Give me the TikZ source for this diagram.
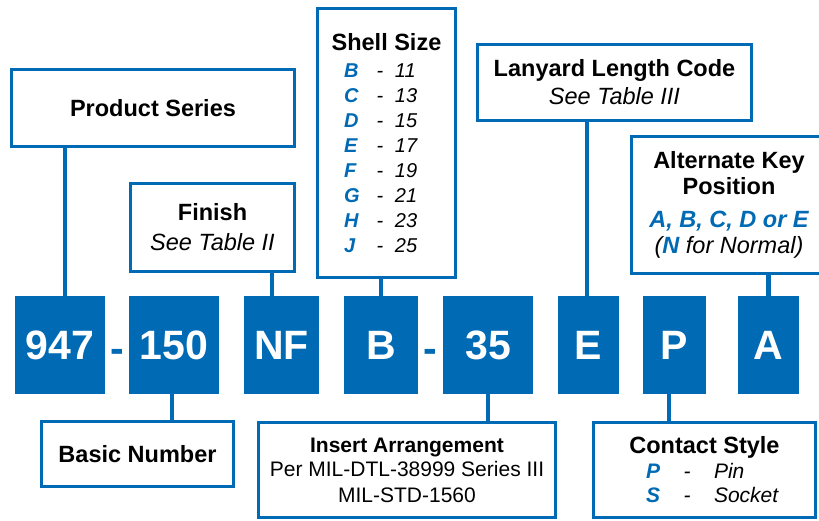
\documentclass[tikz,border=0pt]{standalone}
\usepackage{fontspec}
\setmainfont{Liberation Sans}
\usetikzlibrary{calc}
\definecolor{pnblue}{RGB}{0,106,180}
\newcommand{\szrow}[2]{{\fontsize{20}{25}\selectfont\makebox[21pt][l]{\textcolor{pnblue}{\bfseries\itshape #1}}\makebox[30pt][c]{\itshape -}\makebox[34pt][l]{\itshape #2}}}
\newcommand{\ctrow}[2]{{\fontsize{21}{25}\selectfont\makebox[31pt][r]{\textcolor{pnblue}{\bfseries\itshape #1}}\makebox[54pt][c]{\itshape -}\makebox[66pt][l]{\itshape #2}}}
\newcommand{\insline}[1]{{\fontsize{21}{25}\selectfont #1}}

\begin{document}
\begin{tikzpicture}[x=1pt,y=-1pt,
    code/.style={fill=pnblue,text=white,font=\fontsize{41}{41}\selectfont\bfseries,minimum height=98pt,inner sep=0pt},
    lbl/.style={draw=pnblue,line width=3.3pt,fill=white,align=center,inner sep=0pt,font=\fontsize{23.5}{28}\selectfont},
    link/.style={draw=pnblue,line width=4.5pt},
    sep/.style={text=pnblue,font=\fontsize{41}{41}\selectfont\bfseries,anchor=base,inner sep=0pt}]
  \useasboundingbox (0,0) rectangle (819,521);
  % part number code
  \node[code,minimum width=90pt] (n947) at (60,345) {947};
  \node[code,minimum width=90pt] (n150) at (174,345) {150};
  \node[code,minimum width=75pt] (nNF) at (281.5,345) {NF};
  \node[code,minimum width=74pt] (nB) at (381,345) {B};
  \node[code,minimum width=90pt] (n35) at (488,345) {35};
  \node[code,minimum width=61pt] (nE) at (588.5,345) {E};
  \node[code,minimum width=63pt] (nP) at (674.5,345) {P};
  \node[code,minimum width=61pt] (nA) at (768.5,345) {A};
  \node[sep] (d1) at ($(n947.east)!0.5!(n150.west)+(0,17)$) {-};
  \node[sep] (d2) at ($(nB.east)!0.5!(n35.west)+(0,17)$) {-};
  % upper labels
  \node[lbl,minimum width=283pt,minimum height=77pt] (ps) at (153,108) {\textbf{Product Series}};
  \node[lbl,minimum width=164pt,minimum height=88pt] (fin) at (212.5,227.5) {\textbf{Finish}\\[2pt]\textit{See Table II}};
  \node[lbl,minimum width=138pt,minimum height=269pt] (shell) at (386.5,143)
    {\textbf{Shell Size}\\[-1pt]
     \szrow{B}{11}\\[-3pt]\szrow{C}{13}\\[-3pt]\szrow{D}{15}\\[-3pt]\szrow{E}{17}\\[-3pt]
     \szrow{F}{19}\\[-3pt]\szrow{G}{21}\\[-3pt]\szrow{H}{23}\\[-3pt]\szrow{J}{25}};
  \node[lbl,minimum width=274pt,minimum height=76pt] (lan) at (614.5,82.5) {\textbf{Lanyard Length Code}\\\textit{See Table III}};
  \node[lbl,minimum width=195pt,minimum height=137pt] (alt) at (729,205)
    {\textbf{Alternate Key}\\[-2pt]\textbf{Position}\\[5pt]
     \textcolor{pnblue}{\bfseries\itshape A, B, C, D or E}\\[-2pt]
     \textit{(\textcolor{pnblue}{\bfseries N} for Normal)}};
  % lower labels
  \node[lbl,minimum width=192pt,minimum height=65pt] (basic) at (137.5,454) {\textbf{Basic Number}};
  \node[lbl,minimum width=297pt,minimum height=95pt] (ins) at (407,470)
    {\insline{\textbf{Insert Arrangement}}\\[-4pt]\insline{Per MIL-DTL-38999 Series III}\\[-2pt]\insline{MIL-STD-1560}};
  \node[lbl,minimum width=222pt,minimum height=95pt] (con) at (704.5,470)
    {\textbf{Contact Style}\\[-3pt]\ctrow{P}{Pin}\\[-4pt]\ctrow{S}{Socket}};
  % connectors
  \draw[link] ([xshift=5pt]n947.north) -- ([xshift=5pt]n947.north |- ps.south);
  \draw[link] ([xshift=-9.5pt]nNF.north) -- ([xshift=-9.5pt]nNF.north |- fin.south);
  \draw[link] (nB.north) -- (nB.north |- shell.south);
  \draw[link] ([xshift=-1.5pt]nE.north) -- ([xshift=-1.5pt]nE.north |- lan.south);
  \draw[link] (nA.north) -- (nA.north |- alt.south);
  \draw[link] ([xshift=-2pt]n150.south) -- ([xshift=-2pt]n150.south |- basic.north);
  \draw[link] (n35.south) -- (n35.south |- ins.north);
  \draw[link] ([xshift=-5.5pt]nP.south) -- ([xshift=-5.5pt]nP.south |- con.north);
\end{tikzpicture}
\end{document}
